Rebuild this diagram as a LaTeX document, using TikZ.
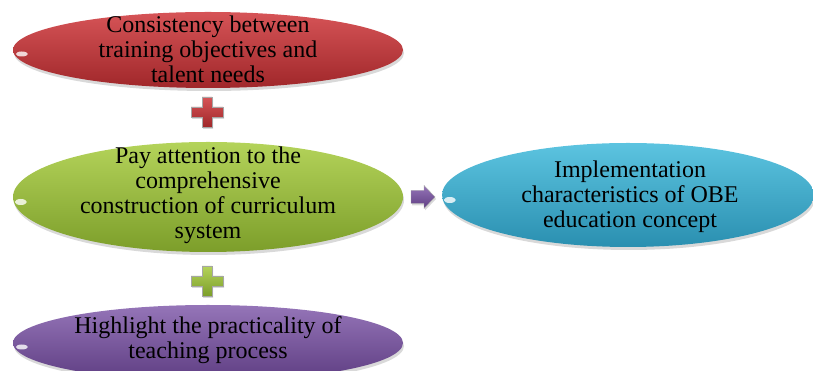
\documentclass[tikz,border=0pt]{standalone}
\usepackage{fontspec}
\setmainfont{Liberation Serif}
\usetikzlibrary{shapes.geometric,shadows}
\definecolor{redTop}{HTML}{D65457}
\definecolor{redMid}{HTML}{C43B3D}
\definecolor{redBot}{HTML}{A0272A}
\definecolor{grnTop}{HTML}{B4D35A}
\definecolor{grnMid}{HTML}{9CC03D}
\definecolor{grnBot}{HTML}{7C9E2A}
\definecolor{bluTop}{HTML}{5CC4E0}
\definecolor{bluMid}{HTML}{38ADCF}
\definecolor{bluBot}{HTML}{2A8FB0}
\definecolor{purTop}{HTML}{9575B8}
\definecolor{purMid}{HTML}{7D57A2}
\definecolor{purBot}{HTML}{5E3D82}
\tikzset{
  oval/.style={ellipse, draw=none, inner sep=0pt, shading=axis,
    drop shadow={opacity=0.3, shadow xshift=1pt, shadow yshift=-3pt}},
  ovaltext/.style={align=center, inner sep=0pt, font=\fontsize{24}{25}\selectfont},
  shine/.style={white, opacity=0.8},
  plusmark/.style={draw=black!35, line width=0.4pt, shading=axis,
    drop shadow={opacity=0.3, shadow xshift=1pt, shadow yshift=-2pt}},
}
\begin{document}
\begin{tikzpicture}[x=1pt,y=1pt]
\useasboundingbox (0,0) rectangle (813,371);
% red
\node[oval, minimum width=390pt, minimum height=76pt, top color=redTop, middle color=redMid, bottom color=redBot] (red) at (208,321) {};
\node[ovaltext] (redt) at (208,322) {Consistency between\\training objectives and\\talent needs};
% green
\node[oval, minimum width=390pt, minimum height=110pt, top color=grnTop, middle color=grnMid, bottom color=grnBot] (grn) at (208,174) {};
\node[ovaltext] (grnt) at (208,176) {Pay attention to the\\comprehensive\\construction of curriculum\\system};
% purple
\node[oval, minimum width=390pt, minimum height=76pt, top color=purTop, middle color=purMid, bottom color=purBot] (pur) at (208,28) {};
\node[ovaltext] (purt) at (208,31) {Highlight the practicality of\\teaching process};
% blue
\node[oval, minimum width=372pt, minimum height=104pt, top color=bluTop, middle color=bluMid, bottom color=bluBot] (blu) at (628,176) {};
\node[ovaltext] (blut) at (630,174) {Implementation\\characteristics of OBE\\education concept};
% shines on left tips
\fill[shine] ([shift={(9,-4)}]red.west) ellipse[x radius=6, y radius=2.5];
\fill[shine] ([shift={(8,-5)}]grn.west) ellipse[x radius=6, y radius=3];
\fill[shine] ([shift={(9,-4)}]pur.west) ellipse[x radius=6, y radius=2.5];
\fill[shine] ([shift={(8,-5)}]blu.west) ellipse[x radius=6, y radius=3];
% plus signs
\coordinate (plusA) at (207,259);
\coordinate (plusB) at (207,90);
\begin{scope}[shift={(plusA)}]
\path[plusmark, top color=redTop, bottom color=redBot]
 (-16,-5) -- (-5,-5) -- (-5,-15) -- (5,-15) -- (5,-5) -- (16,-5) -- (16,5) -- (5,5) -- (5,15) -- (-5,15) -- (-5,5) -- (-16,5) -- cycle;
\end{scope}
\begin{scope}[shift={(plusB)}]
\path[plusmark, top color=grnTop, bottom color=grnBot]
 (-16,-5) -- (-5,-5) -- (-5,-15) -- (5,-15) -- (5,-5) -- (16,-5) -- (16,5) -- (5,5) -- (5,15) -- (-5,15) -- (-5,5) -- (-16,5) -- cycle;
\end{scope}
% arrow
\coordinate (arr) at (423,174);
\begin{scope}[shift={(arr)}]
\path[plusmark, top color=purTop, bottom color=purBot]
 (-12,-6.5) -- (1,-6.5) -- (1,-11.5) -- (12,0) -- (1,11.5) -- (1,6.5) -- (-12,6.5) -- cycle;
\end{scope}
\end{tikzpicture}
\end{document}
